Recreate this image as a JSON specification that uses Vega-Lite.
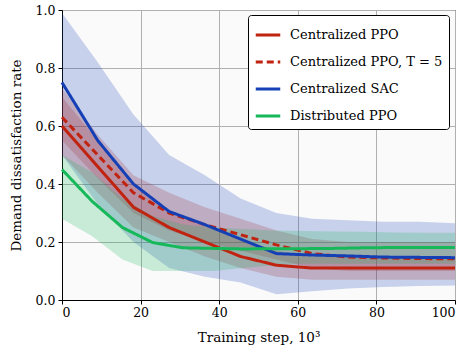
{
  "$schema": "https://vega.github.io/schema/vega-lite/v6.json",
  "width": 393,
  "height": 290,
  "autosize": {"type": "none"},
  "padding": {"left": 62, "top": 10, "right": 15, "bottom": 53},
  "background": "white",
  "config": {
    "font": "DejaVu Serif",
    "view": {"stroke": "black", "strokeWidth": 1, "fill": "#fafafa"},
    "axis": {
      "labelFont": "DejaVu Serif", "labelFontSize": 12.5, "labelColor": "black",
      "titleFont": "DejaVu Serif", "titleFontSize": 13.5, "titleFontWeight": "normal", "titleColor": "black",
      "domainColor": "black", "tickColor": "black", "tickSize": 4,
      "gridColor": "#b0b0b0", "gridOpacity": 1, "gridWidth": 1
    },
    "legend": {
      "labelFont": "DejaVu Serif", "labelFontSize": 13, "labelColor": "black"
    }
  },
  "datasets": {
    "d": [
      {"s": "Centralized PPO", "x": 0, "m": 0.60, "lo": 0.50, "hi": 0.70},
      {"s": "Centralized PPO", "x": 9.09, "m": 0.46, "lo": 0.37, "hi": 0.55},
      {"s": "Centralized PPO", "x": 18.18, "m": 0.32, "lo": 0.25, "hi": 0.40},
      {"s": "Centralized PPO", "x": 27.27, "m": 0.25, "lo": 0.20, "hi": 0.31},
      {"s": "Centralized PPO", "x": 36.36, "m": 0.20, "lo": 0.15, "hi": 0.26},
      {"s": "Centralized PPO", "x": 45.45, "m": 0.15, "lo": 0.11, "hi": 0.21},
      {"s": "Centralized PPO", "x": 54.55, "m": 0.12, "lo": 0.08, "hi": 0.17},
      {"s": "Centralized PPO", "x": 63.64, "m": 0.11, "lo": 0.07, "hi": 0.15},
      {"s": "Centralized PPO", "x": 72.73, "m": 0.11, "lo": 0.07, "hi": 0.15},
      {"s": "Centralized PPO", "x": 81.82, "m": 0.11, "lo": 0.07, "hi": 0.15},
      {"s": "Centralized PPO", "x": 90.91, "m": 0.11, "lo": 0.07, "hi": 0.15},
      {"s": "Centralized PPO", "x": 100, "m": 0.11, "lo": 0.07, "hi": 0.15},
      {"s": "Centralized PPO, T = 5", "x": 0, "m": 0.63, "lo": 0.55, "hi": 0.73},
      {"s": "Centralized PPO, T = 5", "x": 9.09, "m": 0.50, "lo": 0.42, "hi": 0.57},
      {"s": "Centralized PPO, T = 5", "x": 18.18, "m": 0.37, "lo": 0.30, "hi": 0.43},
      {"s": "Centralized PPO, T = 5", "x": 27.27, "m": 0.30, "lo": 0.24, "hi": 0.37},
      {"s": "Centralized PPO, T = 5", "x": 36.36, "m": 0.26, "lo": 0.20, "hi": 0.32},
      {"s": "Centralized PPO, T = 5", "x": 45.45, "m": 0.225, "lo": 0.17, "hi": 0.28},
      {"s": "Centralized PPO, T = 5", "x": 54.55, "m": 0.19, "lo": 0.14, "hi": 0.24},
      {"s": "Centralized PPO, T = 5", "x": 63.64, "m": 0.16, "lo": 0.11, "hi": 0.21},
      {"s": "Centralized PPO, T = 5", "x": 72.73, "m": 0.148, "lo": 0.10, "hi": 0.20},
      {"s": "Centralized PPO, T = 5", "x": 81.82, "m": 0.145, "lo": 0.10, "hi": 0.20},
      {"s": "Centralized PPO, T = 5", "x": 90.91, "m": 0.143, "lo": 0.10, "hi": 0.20},
      {"s": "Centralized PPO, T = 5", "x": 100, "m": 0.142, "lo": 0.10, "hi": 0.20},
      {"s": "Centralized SAC", "x": 0, "m": 0.75, "lo": 0.50, "hi": 0.99},
      {"s": "Centralized SAC", "x": 9.09, "m": 0.55, "lo": 0.33, "hi": 0.82},
      {"s": "Centralized SAC", "x": 18.18, "m": 0.40, "lo": 0.20, "hi": 0.64},
      {"s": "Centralized SAC", "x": 27.27, "m": 0.305, "lo": 0.11, "hi": 0.50},
      {"s": "Centralized SAC", "x": 36.36, "m": 0.26, "lo": 0.08, "hi": 0.43},
      {"s": "Centralized SAC", "x": 45.45, "m": 0.21, "lo": 0.06, "hi": 0.35},
      {"s": "Centralized SAC", "x": 54.55, "m": 0.16, "lo": 0.02, "hi": 0.30},
      {"s": "Centralized SAC", "x": 63.64, "m": 0.155, "lo": 0.03, "hi": 0.28},
      {"s": "Centralized SAC", "x": 72.73, "m": 0.152, "lo": 0.04, "hi": 0.275},
      {"s": "Centralized SAC", "x": 81.82, "m": 0.148, "lo": 0.045, "hi": 0.27},
      {"s": "Centralized SAC", "x": 90.91, "m": 0.147, "lo": 0.048, "hi": 0.27},
      {"s": "Centralized SAC", "x": 100, "m": 0.146, "lo": 0.05, "hi": 0.265},
      {"s": "Distributed PPO", "x": 0, "m": 0.45, "lo": 0.28, "hi": 0.50},
      {"s": "Distributed PPO", "x": 7.69, "m": 0.34, "lo": 0.22, "hi": 0.44},
      {"s": "Distributed PPO", "x": 15.38, "m": 0.25, "lo": 0.14, "hi": 0.35},
      {"s": "Distributed PPO", "x": 23.08, "m": 0.198, "lo": 0.10, "hi": 0.29},
      {"s": "Distributed PPO", "x": 30.77, "m": 0.18, "lo": 0.10, "hi": 0.26},
      {"s": "Distributed PPO", "x": 38.46, "m": 0.178, "lo": 0.10, "hi": 0.25},
      {"s": "Distributed PPO", "x": 46.15, "m": 0.176, "lo": 0.11, "hi": 0.245},
      {"s": "Distributed PPO", "x": 53.85, "m": 0.177, "lo": 0.12, "hi": 0.24},
      {"s": "Distributed PPO", "x": 61.54, "m": 0.177, "lo": 0.125, "hi": 0.238},
      {"s": "Distributed PPO", "x": 69.23, "m": 0.178, "lo": 0.125, "hi": 0.236},
      {"s": "Distributed PPO", "x": 76.92, "m": 0.18, "lo": 0.125, "hi": 0.235},
      {"s": "Distributed PPO", "x": 84.62, "m": 0.181, "lo": 0.125, "hi": 0.233},
      {"s": "Distributed PPO", "x": 92.31, "m": 0.181, "lo": 0.125, "hi": 0.232},
      {"s": "Distributed PPO", "x": 100, "m": 0.181, "lo": 0.125, "hi": 0.232}
    ]
  },
  "data": {"name": "d"},
  "layer": [
    {
      "mark": {"type": "area", "opacity": 0.22},
      "encoding": {
        "x": {"field": "x", "type": "quantitative"},
        "y": {"field": "lo", "type": "quantitative"},
        "y2": {"field": "hi"},
        "fill": {
          "field": "s", "type": "nominal", "legend": null,
          "scale": {
            "domain": ["Centralized SAC", "Centralized PPO", "Centralized PPO, T = 5", "Distributed PPO"],
            "range": ["#1540b5", "#c0230f", "#c0230f", "#16b85a"]
          }
        }
      }
    },
    {
      "mark": {"type": "line", "strokeWidth": 3},
      "encoding": {
        "x": {
          "field": "x", "type": "quantitative",
          "scale": {"domain": [0, 100], "nice": false},
          "axis": {"values": [0, 20, 40, 60, 80, 100], "title": "Training step, 10³", "titlePadding": 12, "labelPadding": 2, "labelFont": "DejaVu Serif, serif", "titleFont": "DejaVu Serif, serif"}
        },
        "y": {
          "field": "m", "type": "quantitative",
          "scale": {"domain": [0, 1], "nice": false},
          "axis": {"values": [0, 0.2, 0.4, 0.6, 0.8, 1.0], "format": ".1f", "title": "Demand dissatisfaction rate", "titlePadding": 12, "labelPadding": 3, "labelFont": "DejaVu Serif, serif", "titleFont": "DejaVu Serif, serif"}
        },
        "stroke": {
          "field": "s", "type": "nominal", "title": null,
          "scale": {
            "domain": ["Centralized PPO", "Centralized PPO, T = 5", "Centralized SAC", "Distributed PPO"],
            "range": ["#c0230f", "#c0230f", "#1540b5", "#16b85a"]
          },
          "legend": {
            "orient": "none", "legendX": 186, "legendY": 5,
            "symbolType": "stroke", "symbolStrokeWidth": 3, "symbolSize": 600,
            "strokeColor": "black", "fillColor": "white", "cornerRadius": 3, "padding": 6,
            "rowPadding": 6, "labelOffset": 8, "labelFont": "DejaVu Serif, serif", "labelFontSize": 13
          }
        },
        "strokeDash": {
          "field": "s", "type": "nominal", "title": null,
          "scale": {
            "domain": ["Centralized PPO", "Centralized PPO, T = 5", "Centralized SAC", "Distributed PPO"],
            "range": [[1, 0], [7, 4], [1, 0], [1, 0]]
          }
        }
      }
    }
  ]
}
